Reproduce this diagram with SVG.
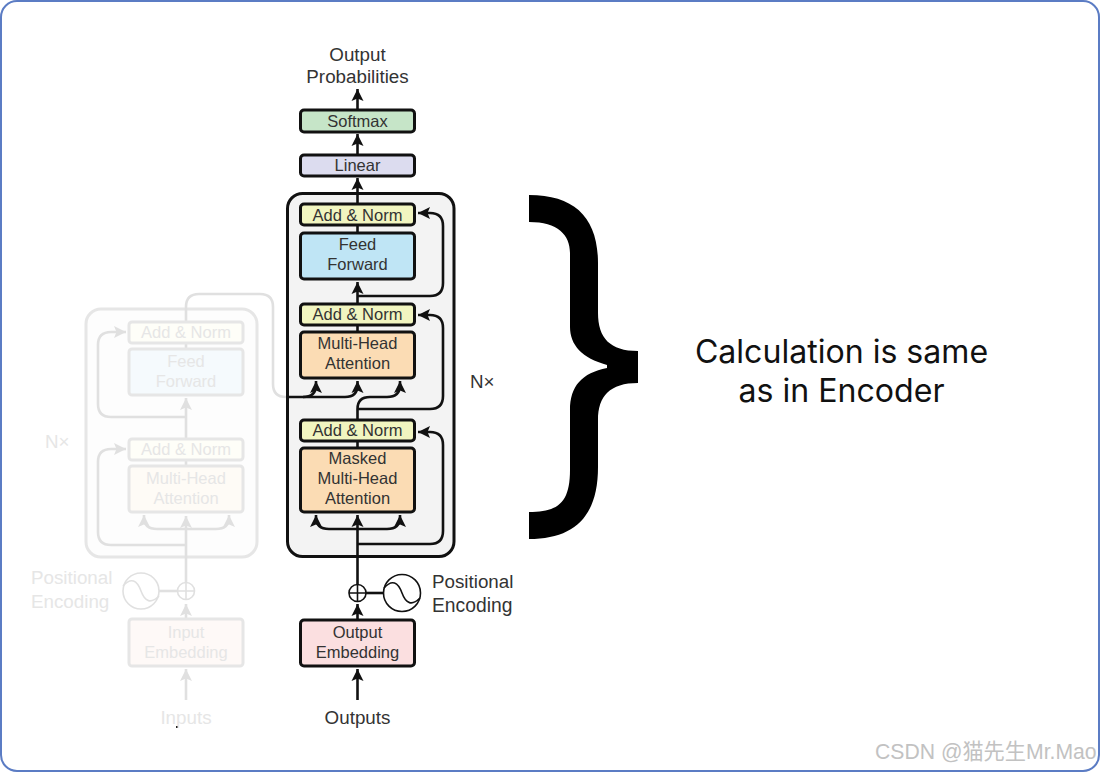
<svg xmlns="http://www.w3.org/2000/svg" width="1100" height="772" viewBox="0 0 1100 772">
<style>
text{font-family:"Liberation Sans",Arial,sans-serif;font-size:16.5px;fill:#333;text-anchor:middle}
.big{font-size:18.8px}
.st{text-anchor:start}
.box{stroke:#111;stroke-width:3}
.con{fill:none;stroke:#111;stroke-width:2.6}
.thin{fill:#fff;stroke:#111;stroke-width:1.6}
.f text{fill:#e6e6e6}
.f .box{stroke:#e6e6e6}
.fc{fill:none;stroke:#e0e0e0;stroke-width:2.6}
.ft{fill:#fff;stroke:#e0e0e0;stroke-width:1.6}
</style>
<defs>
<marker id="a" markerUnits="userSpaceOnUse" markerWidth="15" markerHeight="14" refX="12" refY="6.500" orient="auto"><path d="M0 .5L12 6.500L0 12.500L2.500 6.500Z" fill="#111"/></marker>
<marker id="g" markerUnits="userSpaceOnUse" markerWidth="15" markerHeight="14" refX="12" refY="6.500" orient="auto"><path d="M0 .5L12 6.500L0 12.500L2.500 6.500Z" fill="#e0e0e0"/></marker>
</defs>
<rect id="frame" x="1" y="1" width="1098" height="770" rx="16" fill="#fff" stroke="#5b7cc4" stroke-width="2"/>

<g id="encoder-faded" class="f">
<rect id="enc-stack" x="86" y="309" width="171" height="248" rx="15" fill="#fdfdfd" class="box"/>
<g id="enc-connectors">
<path class="fc" marker-end="url(#g)" d="M186 700V669"/>
<path class="fc" marker-end="url(#g)" d="M186 619V604"/>
<path class="fc" d="M186 583V557"/>
<path class="fc" marker-end="url(#g)" d="M186 557V516"/>
<path class="fc" marker-end="url(#g)" d="M186 529H157Q144 529 144 517V515"/>
<path class="fc" marker-end="url(#g)" d="M186 529H216Q229 529 229 517V515"/>
<path class="fc" marker-end="url(#g)" d="M186 545H111Q98 545 98 532V462Q98 449 111 449H126"/>
<path class="fc" d="M186 466V460"/>
<path class="fc" marker-end="url(#g)" d="M186 439V398"/>
<path class="fc" marker-end="url(#g)" d="M186 417H111Q98 417 98 404V345Q98 332 111 332H126"/>
<path class="fc" d="M186 349V343"/>
<path class="fc" d="M186 322V307Q186 294 199 294H260Q273 294 273 307V384Q273 397 286 397H288"/>
<path class="fc" d="M159 591H177"/>
</g>
<g id="enc-addnorm2"><rect x="129" y="322" width="114" height="21" rx="3" fill="#fefef8" class="box"/><text x="186" y="338">Add &amp; Norm</text></g>
<g id="enc-feedforward"><rect x="129" y="349" width="114" height="46" rx="3" fill="#f5fafd" class="box"/><text x="186" y="367">Feed</text><text x="186" y="387">Forward</text></g>
<g id="enc-addnorm1"><rect x="129" y="439" width="114" height="21" rx="3" fill="#fefef8" class="box"/><text x="186" y="455">Add &amp; Norm</text></g>
<g id="enc-attention"><rect x="129" y="466" width="114" height="46" rx="3" fill="#fefbf6" class="box"/><text x="186" y="484">Multi-Head</text><text x="186" y="504">Attention</text></g>
<g id="enc-add"><circle cx="186" cy="591" r="8.500" class="ft"/><path class="ft" d="M177.500 591H194.500M186 582.500V599.500"/></g>
<g id="enc-positional"><circle cx="141" cy="591" r="18" class="ft"/><path class="ft" style="fill:none" d="M123 586C131 577 137 580 141 591S151 604 159 596"/><text class="big st" x="31" y="584">Positional</text><text class="big st" x="31" y="608">Encoding</text></g>
<g id="enc-embedding"><rect x="129" y="619" width="114" height="47" rx="3" fill="#fef9f7" class="box"/><text x="186" y="638">Input</text><text x="186" y="658">Embedding</text></g>
<text id="enc-nx" class="big st" x="45" y="448">N×</text>
<text id="enc-inputs" class="big" x="186" y="724">Inputs</text>
</g>
<rect id="speck" x="176" y="726" width="1.500" height="2" fill="#222"/>

<g id="dec-stack"><rect x="287.500" y="193.500" width="166.500" height="363" rx="15" fill="#f3f3f3" class="box"/></g>

<g id="connectors">
<path class="con" marker-end="url(#a)" d="M357.500 700V669"/>
<path class="con" marker-end="url(#a)" d="M357.500 619V604"/>
<path class="con" marker-end="url(#a)" d="M357.500 585V515"/>
<path class="con" marker-end="url(#a)" d="M357.500 529H329Q316 529 316 517V515"/>
<path class="con" marker-end="url(#a)" d="M357.500 529H387Q400 529 400 517V515"/>
<path class="con" marker-end="url(#a)" d="M357.500 544H430Q443 544 443 531V445Q443 432 430 432H418"/>
<path class="con" d="M357.500 447V441"/>
<path class="con" marker-end="url(#a)" d="M357.500 419V409Q357.500 397 370 397H387Q400 397 400 385V381"/>
<path class="con" marker-end="url(#a)" d="M357.500 409H430Q443 409 443 396V328Q443 315 430 315H418"/>
<path class="con" marker-end="url(#a)" d="M287 397H303Q316 397 316 385V381"/>
<path class="con" marker-end="url(#a)" d="M303 397H345Q357.500 397 357.500 385V381"/>
<path class="con" d="M357.500 331V325"/>
<path class="con" marker-end="url(#a)" d="M357.500 303V282"/>
<path class="con" marker-end="url(#a)" d="M357.500 296H430Q443 296 443 283V226Q443 213 430 213H418"/>
<path class="con" d="M357.500 232V225"/>
<path class="con" marker-end="url(#a)" d="M357.500 203V178"/>
<path class="con" marker-end="url(#a)" d="M357.500 154V134"/>
<path class="con" marker-end="url(#a)" d="M357.500 109V89"/>
<path class="con" d="M366 593H384"/>
</g>

<g id="output-probabilities"><text class="big" x="357.500" y="60.500">Output</text><text class="big" x="357.500" y="83">Probabilities</text></g>
<g id="softmax"><rect x="300.500" y="110" width="114" height="22" rx="3.500" fill="#c6e5c8" class="box"/><text x="357.500" y="127">Softmax</text></g>
<g id="linear"><rect x="300.500" y="155" width="114" height="21" rx="3.500" fill="#dcdcef" class="box"/><text x="357.500" y="171">Linear</text></g>
<g id="addnorm3"><rect x="300.500" y="204" width="114" height="21" rx="3.500" fill="#f1f5c0" class="box"/><text x="357.500" y="220.500">Add &amp; Norm</text></g>
<g id="feedforward"><rect x="300.500" y="233" width="114" height="46" rx="3.500" fill="#bfe5f5" class="box"/><text x="357.500" y="250">Feed</text><text x="357.500" y="270">Forward</text></g>
<g id="addnorm2"><rect x="300.500" y="304" width="114" height="21" rx="3.500" fill="#f1f5c0" class="box"/><text x="357.500" y="320">Add &amp; Norm</text></g>
<g id="cross-attention"><rect x="300.500" y="332" width="114" height="46" rx="3.500" fill="#fbdcb4" class="box"/><text x="357.500" y="349">Multi-Head</text><text x="357.500" y="369">Attention</text></g>
<g id="addnorm1"><rect x="300.500" y="420" width="114" height="21" rx="3.500" fill="#f1f5c0" class="box"/><text x="357.500" y="436">Add &amp; Norm</text></g>
<g id="masked-attention"><rect x="300.500" y="448" width="114" height="64" rx="3.500" fill="#fbdcb4" class="box"/><text x="357.500" y="464">Masked</text><text x="357.500" y="484">Multi-Head</text><text x="357.500" y="504">Attention</text></g>
<g id="add"><circle cx="357.500" cy="593" r="8.500" class="thin"/><path class="thin" d="M349 593H366M357.500 584.500V601.500"/></g>
<g id="positional"><circle cx="402" cy="593" r="18.500" class="thin"/><path class="thin" style="fill:none" d="M384 588C392 579 398 582 402 593S412 606 420 598"/><text class="big st" x="432" y="587.500">Positional</text><text class="big st" style="font-size:19.300px" x="432" y="611.500">Encoding</text></g>
<g id="output-embedding"><rect x="300.500" y="620" width="114" height="46" rx="3.500" fill="#fbdfe0" class="box"/><text x="357.500" y="638">Output</text><text x="357.500" y="658">Embedding</text></g>
<text id="outputs" class="big" x="357.500" y="724">Outputs</text>
<text id="nx" class="big st" x="470" y="388">N×</text>

<path id="brace" d="M529 195C575 195 598 218 598 263V313C598 338 610 351 638 351V383C610 383 598 396 598 420V467C598 516 575 539 529 539V512C558 512 570 503 570 470V410C570 386 582 373 607 368V365C582 358 570 345 570 327V253C570 235 558 222 529 222Z" fill="#000"/>

<g id="caption"><text x="841.500" y="363" style="font-family:Inter,sans-serif;font-size:32.100px;fill:#111">Calculation is same</text><text x="841.500" y="402" style="font-family:Inter,sans-serif;font-size:32.100px;fill:#111">as in Encoder</text></g>

<text id="watermark" x="875" y="759" style="text-anchor:start;font-family:'Liberation Sans','Noto Sans CJK SC',sans-serif;font-size:21.200px;fill:#c2c2c2">CSDN @猫先生Mr.Mao</text>
</svg>
